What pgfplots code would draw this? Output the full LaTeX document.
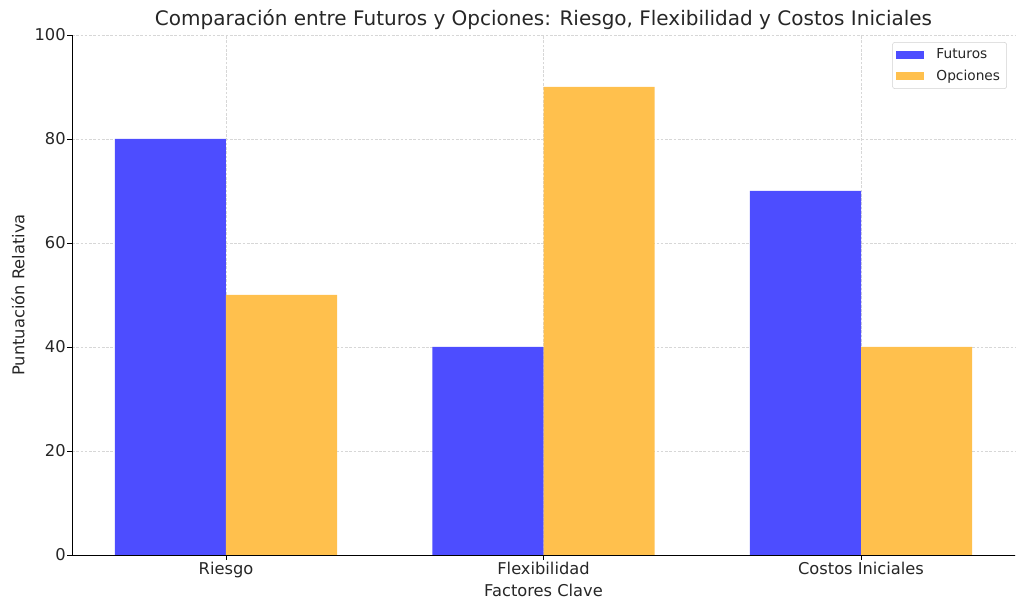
\documentclass[border=0pt]{standalone}
\usepackage{pgfplots}
\pgfplotsset{compat=1.18}
\usepackage{fontspec}
\setmainfont{DejaVu Sans}
\definecolor{cfut}{RGB}{77,77,255}
\definecolor{copc}{RGB}{255,192,77}
\definecolor{gridc}{RGB}{215,215,215}
\definecolor{legc}{RGB}{210,210,210}
\begin{document}
\begin{tikzpicture}
\path[use as bounding box] (-54pt,-41.25pt) rectangle (714pt,416.25pt);
\begin{axis}[
  at={(0,0)}, anchor=south west,
  scale only axis,
  width=707.25pt, height=390pt,
  xmin=-0.485, xmax=2.485,
  ymin=0, ymax=100,
  xtick={0,1,2},
  xticklabels={Riesgo,Flexibilidad,Costos Iniciales},
  ytick={0,20,40,60,80,100},
  axis x line*=bottom, axis y line*=left,
  axis line style={line width=0.6pt, color=black},
  tick align=outside,
  major tick length=3.7pt,
  tick style={line width=0.6pt, color=black},
  xmajorgrids, ymajorgrids,
  grid style={dash pattern=on 2pt off 1.2pt, gridc, line width=0.4pt},
  /pgf/number format/assume math mode=true,
  tick label style={font=\fontsize{12.2}{14}\selectfont, color=black!85},
  xticklabel style={yshift=2pt},
  yticklabel style={xshift=2.5pt},
  label style={font=\fontsize{12.2}{14}\selectfont, color=black!85},
  xlabel={Factores Clave},
  ylabel={Puntuación Relativa},
  xlabel style={at={(0.5,0)}, anchor=center, yshift=-26.25pt},
  ylabel style={at={(0,0.5)}, anchor=center, yshift=40.5pt},
  title={Comparación entre Futuros y Opciones: Riesgo, Flexibilidad y Costos Iniciales},
  title style={font=\fontsize{15}{17}\selectfont, color=black!85, at={(0.5,1)}, anchor=base, yshift=1pt},
  legend style={at={(1-0.0085,1-0.0135)}, anchor=north east,
    draw=legc, rounded corners=2pt, fill=white,
    font=\fontsize{10.3}{12}\selectfont, text=black!85,
    row sep=2.5pt, column sep=7pt, inner xsep=3pt, inner ysep=3pt},
  legend cell align=left,
  legend image code/.code={\fill[#1, sharp corners] (0pt,-3pt) rectangle (21pt,3pt);},
]
\addplot[fill=cfut, draw=none, ybar, bar width=0.35, bar shift=-0.175] coordinates {(0,80) (1,40) (2,70)};
\addplot[fill=copc, draw=none, ybar, bar width=0.35, bar shift=0.175] coordinates {(0,50) (1,90) (2,40)};
\legend{Futuros, Opciones}
\end{axis}
\end{tikzpicture}
\end{document}
